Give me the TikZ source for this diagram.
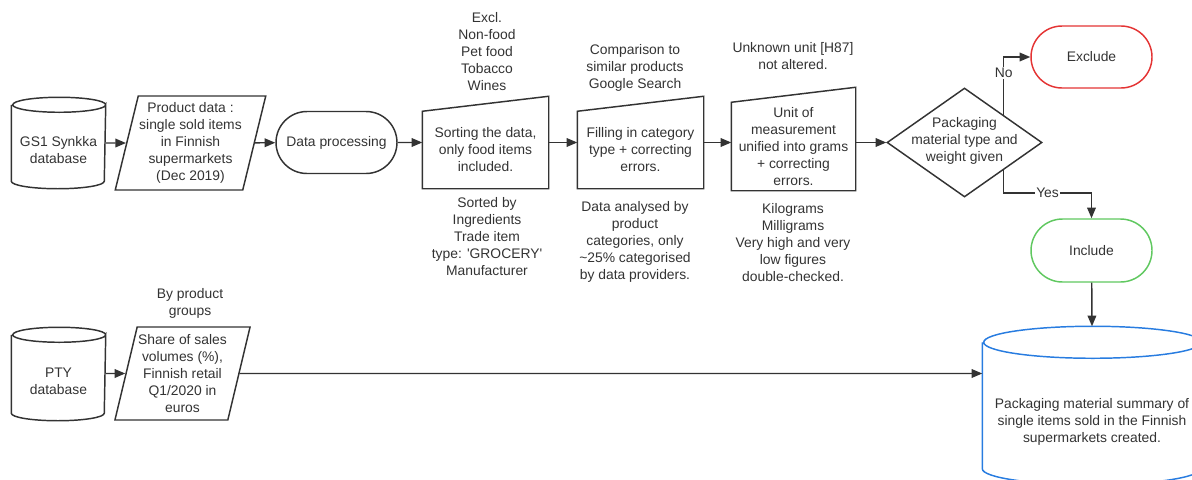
\documentclass[tikz,border=0pt]{standalone}
\usepackage{fontspec}
\setmainfont{Liberation Sans}
\usepackage{tikz}
\usepackage{xcolor}
\usetikzlibrary{shapes.geometric,shapes.misc,arrows.meta,calc}

\definecolor{ink}{RGB}{51,51,51}
\definecolor{exred}{RGB}{228,52,52}
\definecolor{ingreen}{RGB}{96,200,96}
\definecolor{sumblue}{RGB}{40,124,224}

\tikzset{
  base/.style={draw=ink, line width=1.1pt, text=ink, inner sep=0.75pt, align=center,
    font=\fontsize{10.4}{12.75}\selectfont},
  annot/.style={text=ink, inner sep=0.75pt, align=center, font=\fontsize{10.4}{12.75}\selectfont},
  canbody/.style={base, draw=none, rectangle, minimum width=69.75pt},
  datain/.style={base, trapezium, trapezium left angle=74.5, trapezium right angle=105.5, trapezium stretches},
  terminal/.style={base, rounded rectangle, minimum width=92.25pt, minimum height=46.5pt},
  manin/.style={base, draw=none, rectangle, minimum width=93.75pt, minimum height=57pt},
  decision/.style={base, diamond, minimum width=116.25pt, minimum height=81.75pt, inner sep=0pt},
  flow/.style={draw=ink, line width=1.1pt, -{Triangle[length=8pt,width=6.5pt]}},
}

% can outline round a text node: #1 node, #2 x radius, #3 y radius, #4 colour
\newcommand{\candraw}[4]{%
  \draw[draw=#4, line width=1.1pt] ($(#1.north west)+(0,-#3)$) -- ($(#1.south west)+(0,-#3)$)
    arc[start angle=180, end angle=0, x radius=#2, y radius=#3]
    -- ($(#1.north east)+(0,-#3)$)
    arc[start angle=0, end angle=360, x radius=#2, y radius=#3];
}

\begin{document}
\begin{tikzpicture}[x=0.75pt,y=0.75pt,yscale=-1,xscale=1]
\useasboundingbox (0,0) rectangle (1192,479);

%Shape: Can [id:gs1]
\node[canbody, minimum height=56.25pt] (gs1) at (58.5,150.5) {GS1 Synkka\\database};
\candraw{gs1}{46.5}{7.5}{ink}
%Flowchart: Data [id:prod]
\node[datain, minimum width=104.25pt, minimum height=70.5pt] (prod) at (190.5,143) {Product data :\\single sold items\\in Finnish\\supermarkets\\(Dec 2019)};
%Flowchart: Terminator [id:proc]
\node[terminal] (proc) at (336.5,142.5) {Data processing};

%Flowchart: Manual Input [id:sort]
\node[manin] (sort) at (485.5,150) {Sorting the data,\\only food items\\included.};
\draw[draw=ink, line width=1.1pt] (sort.north west) -- (sort.south west) -- (sort.south east) -- ($(sort.north east)+(0,-15)$) -- cycle;
%Flowchart: Manual Input [id:fill]
\node[manin] (fill) at (640.5,150) {Filling in category\\type + correcting\\errors.};
\draw[draw=ink, line width=1.1pt] (fill.north west) -- (fill.south west) -- (fill.south east) -- ($(fill.north east)+(0,-15)$) -- cycle;
%Flowchart: Manual Input [id:unit]
\node[manin, minimum width=92.25pt, minimum height=65.25pt] (unit) at (793.5,146.5) {Unit of\\measurement\\unified into grams\\+ correcting\\errors.};
\draw[draw=ink, line width=1.1pt] (unit.north west) -- (unit.south west) -- (unit.south east) -- ($(unit.north east)+(0,-15)$) -- cycle;

%Flowchart: Decision [id:dec]
\node[decision] (dec) at (964.5,142.5) {};
% Text Node
\node[annot] (dectxt) at (964.5,141) {Packaging\\material type and\\weight given};

%Flowchart: Terminator [id:exc]
\node[terminal, draw=exred] (exc) at (1091.5,57) {Exclude};
%Flowchart: Terminator [id:inc]
\node[terminal, draw=ingreen, minimum height=47.25pt] (inc) at (1091.5,250.5) {Include};

%Shape: Can [id:pty]
\node[canbody, minimum height=57.75pt] (pty) at (58.5,381.5) {PTY\\database};
\candraw{pty}{46.5}{7.5}{ink}
%Flowchart: Data [id:share]
\node[datain, minimum width=93.75pt, minimum height=69.75pt] (share) at (182.5,373.5) {Share of sales\\volumes (\%),\\Finnish retail\\Q1/2020 in\\euros};
%Shape: Can [id:sum]
\node[canbody, minimum width=163.5pt, minimum height=93.75pt] (sum) at (1092,421.5) {Packaging material summary of\\single items sold in the Finnish\\supermarkets created.};
\candraw{sum}{109}{16}{sumblue}
\coordinate (sumtop) at ($(sum.north)+(0,-32)$);

% Text Node
\node[annot] (sortup) at (487,52) {Excl.\\Non-food\\Pet food\\Tobacco\\Wines};
% Text Node
\node[annot] (sortdn) at (487,237) {Sorted by\\Ingredients\\Trade item\\type: \textquotesingle GROCERY\textquotesingle\\Manufacturer};
% Text Node
\node[annot] (fillup) at (635,68) {Comparison to\\similar products\\Google Search};
% Text Node
\node[annot] (filldn) at (635,241.5) {Data analysed by\\product\\categories, only\\\textasciitilde25\% categorised\\by data providers.};
% Text Node
\node[annot] (unitup) at (793,56) {Unknown unit [H87]\\not altered.};
% Text Node
\node[annot] (unitdn) at (793,242.5) {Kilograms\\Milligrams\\Very high and very\\low figures\\double-checked.};
% Text Node
\node[annot] (shareup) at (190,303.5) {By product\\groups};

%Connectors
\draw[flow] (gs1.east |- prod) -- (prod);
\draw[flow] (prod) -- (proc);
\draw[flow] (proc) -- (proc -| sort.west);
\draw[flow] (proc -| sort.east) -- (proc -| fill.west);
\draw[flow] (proc -| fill.east) -- (proc -| unit.west);
\draw[flow] (dec -| unit.east) -- (dec);
\draw[flow] (dec.north east) |- node[annot, fill=white, pos=0.36] {No} (exc.west);
\coordinate (yesbend) at ($(dec.south east)+(0,23)$);
\draw[flow] (dec.south east) -- (yesbend) -| node[annot, fill=white, pos=0.25] {Yes} (inc.north);
\draw[flow] (inc) -- (sumtop);
\draw[flow] (pty.east |- share) -- (share);
\draw[flow] (share) -- (share -| sum.west);

\end{tikzpicture}
\end{document}
